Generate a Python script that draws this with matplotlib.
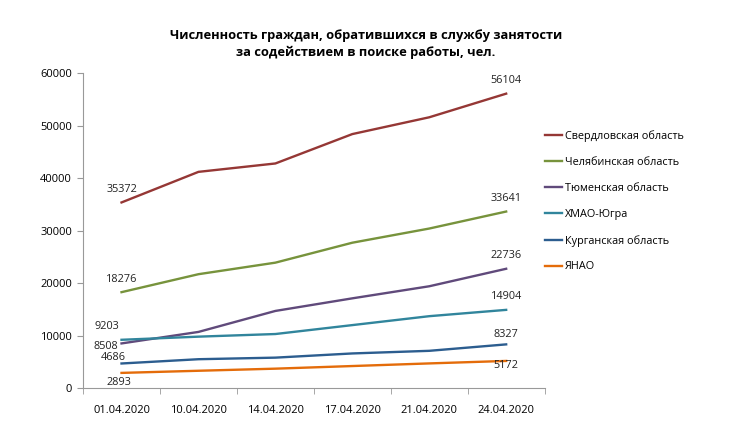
import matplotlib
matplotlib.use("Agg")
import matplotlib.pyplot as plt
import numpy as np

plt.rcParams['font.family'] = ['Open Sans', 'DejaVu Sans']

dates = ["01.04.2020", "10.04.2020", "14.04.2020", "17.04.2020", "21.04.2020", "24.04.2020"]
series_names = ["Свердловская область", "Челябинская область", "Тюменская область",
                "ХМАО-Югра", "Курганская область", "ЯНАО"]
sverdlovsk = [35372, 41200, 42800, 48400, 51600, 56104]
chelyabinsk = [18276, 21700, 23900, 27700, 30400, 33641]
tyumen = [8508, 10700, 14700, 17100, 19400, 22736]
khmao = [9203, 9800, 10300, 12000, 13700, 14904]
kurgan = [4686, 5500, 5800, 6600, 7100, 8327]
yanao = [2893, 3300, 3700, 4200, 4700, 5172]
colors = ["#953735", "#77933C", "#604A7B", "#31859C", "#2C5D8F", "#E46C0A"]
yticks = [0, 10000, 20000, 30000, 40000, 50000, 60000]

all_series = [sverdlovsk, chelyabinsk, tyumen, khmao, kurgan, yanao]

fig = plt.figure(figsize=(7.35, 4.41), dpi=100)
ax = fig.add_axes([0.113, 0.120, 0.628, 0.714])
x = np.arange(len(dates))
for vals, name, c in zip(all_series, series_names, colors):
    ax.plot(x, vals, color=c, lw=1.7, label=name)

# data labels: (series index, point index, dx px, dy px)
labels = [
    (0, 0, 0, 13), (0, 5, 0, 13),
    (1, 0, 0, 13), (1, 5, 0, 13),
    (2, 0, -16, -3.5), (2, 5, 0, 13),
    (3, 0, -15, 13), (3, 5, 0, 13),
    (4, 0, -8, 5.5), (4, 5, 0, 10),
    (5, 0, -3, -10), (5, 5, 0, -5),
]
for si, pi, dx, dy in labels:
    v = all_series[si][pi]
    ax.annotate(str(v), (x[pi], v), xytext=(dx * 0.72, dy * 0.72), textcoords='offset points',
                ha='center', va='center', fontsize=7.8, color='#222222')

ax.set_xlim(-0.5, len(dates) - 0.5)
ax.set_ylim(0, 60000)
ax.set_yticks(yticks)
ax.set_yticklabels([str(t) for t in yticks], fontsize=8)
ax.set_xticks(x)
ax.set_xticklabels(dates, fontsize=8)
ax.tick_params(axis='x', length=0, pad=12)
ax.set_xticks(np.arange(-0.5, len(dates), 1.0), minor=True)
ax.tick_params(axis='x', which='minor', length=4, color='#999999')
ax.tick_params(axis='y', length=4, color='#999999', pad=4)
for s in ['top', 'right']:
    ax.spines[s].set_visible(False)
for s in ['left', 'bottom']:
    ax.spines[s].set_color('#999999')

leg = fig.legend(loc='upper left', bbox_to_anchor=(0.728, 0.727), frameon=False,
                 fontsize=7.8, handlelength=1.6, handletextpad=0.25, labelspacing=1.38)

fig.text(0.498, 0.9, "Численность граждан, обратившихся в службу занятости\nза содействием в поиске работы, чел.",
         ha='center', va='center', fontsize=9.3, fontweight='bold', linespacing=1.45)

fig.savefig("out.png", dpi=100)
